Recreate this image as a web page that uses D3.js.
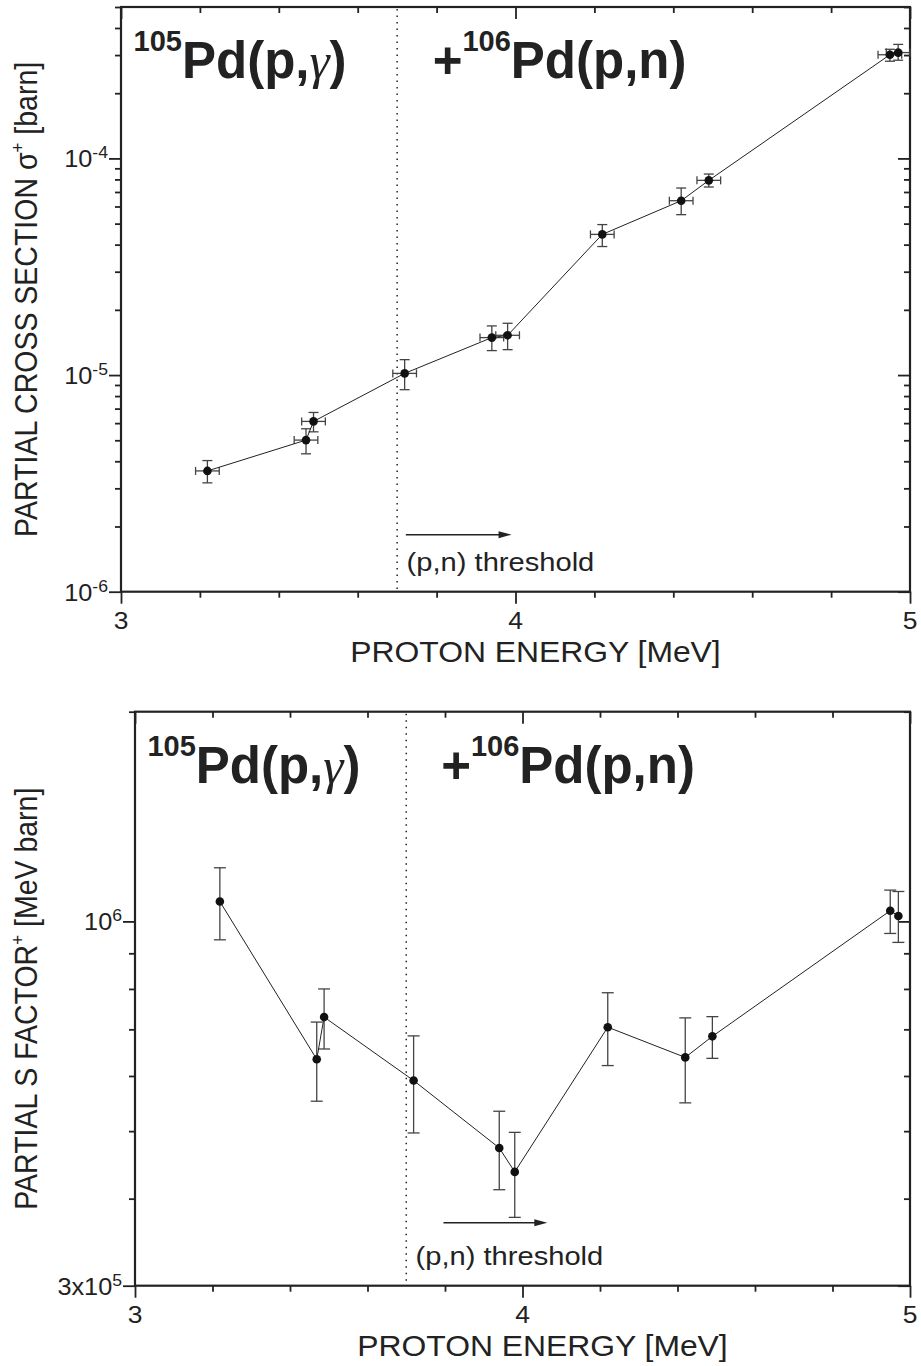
<!DOCTYPE html>
<html><head><meta charset="utf-8">
<script src="https://cdn.jsdelivr.net/npm/d3@7"></script>
<style>
html,body{margin:0;padding:0;background:#fff;}
svg{display:block;}
text{font-family:"Liberation Sans",Arial,Helvetica,sans-serif;fill:#222;}
</style>
</head><body>
<svg id="c" width="921" height="1366"></svg>
<script>
// ---------- data ----------
const energy    = [3.219, 3.469, 3.488, 3.719, 3.940, 3.980, 4.220, 4.420, 4.490, 4.949, 4.970];
const energyErr = [0.03, 0.03, 0.03, 0.03, 0.03, 0.03, 0.03, 0.03, 0.03, 0.03, 0.03];

const sigma   = [3.61e-6, 5.01e-6, 6.11e-6, 1.018e-5, 1.489e-5, 1.526e-5, 4.46e-5, 6.38e-5, 7.92e-5, 3.01e-4, 3.08e-4];
const sigmaHi = [4.03e-6, 5.65e-6, 6.72e-6, 1.178e-5, 1.686e-5, 1.734e-5, 4.95e-5, 7.30e-5, 8.47e-5, 3.19e-4, 3.36e-4];
const sigmaLo = [3.18e-6, 4.33e-6, 5.47e-6, 8.56e-6, 1.297e-5, 1.310e-5, 3.92e-5, 5.50e-5, 7.38e-5, 2.81e-4, 2.84e-4];

const sFactor   = [1.068e6, 6.34e5, 7.29e5, 5.91e5, 4.73e5, 4.37e5, 7.05e5, 6.38e5, 6.84e5, 1.036e6, 1.018e6];
const sFactorHi = [1.194e6, 7.17e5, 8.00e5, 6.85e5, 5.34e5, 4.98e5, 7.90e5, 7.27e5, 7.30e5, 1.109e6, 1.104e6];
const sFactorLo = [9.41e5, 5.52e5, 6.56e5, 4.97e5, 4.12e5, 3.76e5, 6.21e5, 5.49e5, 6.36e5, 9.61e5, 9.33e5];

const xDomain      = [3, 5];
const xTicksMajor  = [3, 4, 5];
const xTickLabels  = ["3", "4", "5"];
const xTicksMinor  = [3.2, 3.4, 3.6, 3.8, 4.2, 4.4, 4.6, 4.8];

const sigmaDomain     = [1e-6, 5e-4];
const sigmaTickValues = [1e-6, 1e-5, 1e-4];
const sigmaTickBase   = ["10", "10", "10"];
const sigmaTickExp    = ["-6", "-5", "-4"];

const sDomain     = [3e5, 2e6];
const sTickValues = [3e5, 1e6];
const sTickBase   = ["3x10", "10"];
const sTickExp    = ["5", "6"];

const threshold   = 3.70;
const arrowTop    = [3.722, 3.990];
const arrowBottom = [3.796, 4.064];

// ---------- drawing ----------
const svg = d3.select("#c");
svg.append("rect").attr("width", 921).attr("height", 1366).attr("fill", "#fff");

const ink = "#222";

function styleAxis(sel) {
  sel.select(".domain").remove();
  sel.selectAll(".tick line").attr("stroke", ink).attr("stroke-width", 1.8);
  sel.selectAll(".tick text").remove();
}
// text slightly widened horizontally, as in the reference
function stext(g, x, y, sx, size) {
  return g.append("text").attr("transform", `translate(${x},${y}) scale(${sx},1)`).attr("font-size", size);
}

function panel(o) {
  const g = svg.append("g");
  const x = d3.scaleLinear().domain(xDomain).range([o.L, o.R]);
  const y = d3.scaleLog().domain(o.yDomain).range([o.B, o.T]);

  const yAll = y.ticks().filter(v => v >= o.yDomain[0] * 0.999 && v <= o.yDomain[1] * 1.001);
  const yMinor = yAll.filter(v => !o.yMajor.some(m => Math.abs(m - v) / m < 1e-6));

  g.append("g").attr("transform", `translate(0,${o.B})`)
    .call(d3.axisBottom(x).tickValues(xTicksMajor).tickSize(12).tickSizeOuter(0)).call(styleAxis);
  g.append("g").attr("transform", `translate(0,${o.B})`)
    .call(d3.axisBottom(x).tickValues(xTicksMinor).tickSize(6).tickSizeOuter(0)).call(styleAxis);
  g.append("g").attr("transform", `translate(0,${o.T})`)
    .call(d3.axisTop(x).tickValues(xTicksMajor).tickSize(-12).tickSizeOuter(0)).call(styleAxis);
  g.append("g").attr("transform", `translate(0,${o.T})`)
    .call(d3.axisTop(x).tickValues(xTicksMinor).tickSize(-6).tickSizeOuter(0)).call(styleAxis);
  g.append("g").attr("transform", `translate(${o.L},0)`)
    .call(d3.axisLeft(y).tickValues(o.yMajor).tickSize(12).tickSizeOuter(0)).call(styleAxis);
  g.append("g").attr("transform", `translate(${o.L},0)`)
    .call(d3.axisLeft(y).tickValues(yMinor).tickSize(6).tickSizeOuter(0)).call(styleAxis);
  g.append("g").attr("transform", `translate(${o.R},0)`)
    .call(d3.axisRight(y).tickValues(o.yMajor).tickSize(-12).tickSizeOuter(0)).call(styleAxis);
  g.append("g").attr("transform", `translate(${o.R},0)`)
    .call(d3.axisRight(y).tickValues(yMinor).tickSize(-6).tickSizeOuter(0)).call(styleAxis);

  g.append("rect").attr("x", o.L).attr("y", o.T).attr("width", o.R - o.L).attr("height", o.B - o.T)
    .attr("fill", "none").attr("stroke", ink).attr("stroke-width", 2.2);

  // x tick labels
  xTicksMajor.forEach((d, i) => {
    stext(g, x(d), o.B + 37, 1.15, 23).attr("text-anchor", "middle").text(xTickLabels[i]);
  });

  // y tick labels with superscripts
  o.yMajor.forEach((v, i) => {
    const t = stext(g, o.L - 13, y(v) + 9, 1.1, 23).attr("text-anchor", "end");
    t.append("tspan").text(o.yBase[i]);
    t.append("tspan").attr("font-size", 16).attr("dy", -9).text(o.yExp[i]);
  });

  // x title
  stext(g, (o.L + o.R) / 2 + 20, o.B + 70, 1.08, 29.5)
    .attr("text-anchor", "middle").text("PROTON ENERGY [MeV]");

  // y title
  const yt = g.append("text").attr("transform", `translate(37,${(o.T + o.B) / 2}) rotate(-90) scale(1,1.12)`)
    .attr("text-anchor", "middle").attr("font-size", 28.5);
  yt.append("tspan").text(o.yTitle[0]);
  yt.append("tspan").attr("font-size", 17).attr("dy", -12).text("+");
  yt.append("tspan").attr("dy", 12).text(o.yTitle[1]);

  // threshold dotted line
  g.append("line").attr("x1", x(threshold)).attr("x2", x(threshold))
    .attr("y1", o.T + 2).attr("y2", o.B - 1)
    .attr("stroke", ink).attr("stroke-width", 1.5).attr("stroke-dasharray", "1.5,5");

  // arrow
  const ay = o.B - o.arrowOff;
  g.append("line").attr("x1", x(o.arrow[0])).attr("x2", x(o.arrow[1]) - 10)
    .attr("y1", ay).attr("y2", ay).attr("stroke", ink).attr("stroke-width", 1.5);
  const ax = x(o.arrow[1]);
  g.append("path").attr("d", `M${ax},${ay} L${ax - 13},${ay - 3.5} L${ax - 13},${ay + 3.5} Z`).attr("fill", ink);
  stext(g, x(3.724), o.B - 21, 1.12, 26).text("(p,n) threshold");

  // titles
  const ty = o.T + 71;
  const t1 = g.append("text").attr("x", x(3.032)).attr("y", ty).attr("font-size", 51).attr("font-weight", "bold");
  t1.append("tspan").attr("font-size", 29).attr("dy", -27).text("105");
  t1.append("tspan").attr("dy", 27).text("Pd(p,");
  t1.append("tspan").attr("font-family", "'Liberation Serif','Times New Roman',serif")
    .attr("font-style", "italic").attr("font-weight", "normal").text("γ");
  t1.append("tspan").text(")");
  const t2 = g.append("text").attr("x", x(3.79)).attr("y", ty).attr("font-size", 51).attr("font-weight", "bold");
  t2.append("tspan").text("+");
  t2.append("tspan").attr("font-size", 29).attr("dy", -27).text("106");
  t2.append("tspan").attr("dy", 27).text("Pd(p,n)");

  // data
  const pts = energy.map((e, i) => ({e, v: o.vals[i], hi: o.hi[i], lo: o.lo[i], xe: energyErr[i]}));
  const eb = g.append("g").attr("stroke", "#444").attr("stroke-width", 1.3);
  pts.forEach(p => {
    eb.append("line").attr("x1", x(p.e)).attr("x2", x(p.e)).attr("y1", y(p.lo)).attr("y2", y(p.hi));
    eb.append("line").attr("x1", x(p.e) - o.cap).attr("x2", x(p.e) + o.cap).attr("y1", y(p.lo)).attr("y2", y(p.lo));
    eb.append("line").attr("x1", x(p.e) - o.cap).attr("x2", x(p.e) + o.cap).attr("y1", y(p.hi)).attr("y2", y(p.hi));
    if (o.xErr) {
      const x0 = x(p.e - p.xe), x1 = x(p.e + p.xe), yy = y(p.v);
      eb.append("line").attr("x1", x0).attr("x2", x1).attr("y1", yy).attr("y2", yy);
      eb.append("line").attr("x1", x0).attr("x2", x0).attr("y1", yy - 4).attr("y2", yy + 4);
      eb.append("line").attr("x1", x1).attr("x2", x1).attr("y1", yy - 4).attr("y2", yy + 4);
    }
  });
  g.append("path").datum(pts)
    .attr("d", d3.line().x(p => x(p.e)).y(p => y(p.v)))
    .attr("fill", "none").attr("stroke", ink).attr("stroke-width", 1);
  g.selectAll(".pt").data(pts).enter().append("circle")
    .attr("cx", p => x(p.e)).attr("cy", p => y(p.v)).attr("r", 4.3).attr("fill", "#111");
}

panel({
  L: 121, R: 910, T: 7, B: 591.7,
  yDomain: sigmaDomain, yMajor: sigmaTickValues, yBase: sigmaTickBase, yExp: sigmaTickExp,
  vals: sigma, hi: sigmaHi, lo: sigmaLo, xErr: true, cap: 5,
  yTitle: ["PARTIAL CROSS SECTION σ", " [barn]"],
  arrow: arrowTop, arrowOff: 57
});
panel({
  L: 135, R: 910, T: 711.7, B: 1285.7,
  yDomain: sDomain, yMajor: sTickValues, yBase: sTickBase, yExp: sTickExp,
  vals: sFactor, hi: sFactorHi, lo: sFactorLo, xErr: false, cap: 6,
  yTitle: ["PARTIAL S FACTOR", " [MeV barn]"],
  arrow: arrowBottom, arrowOff: 63
});
</script>
</body></html>
